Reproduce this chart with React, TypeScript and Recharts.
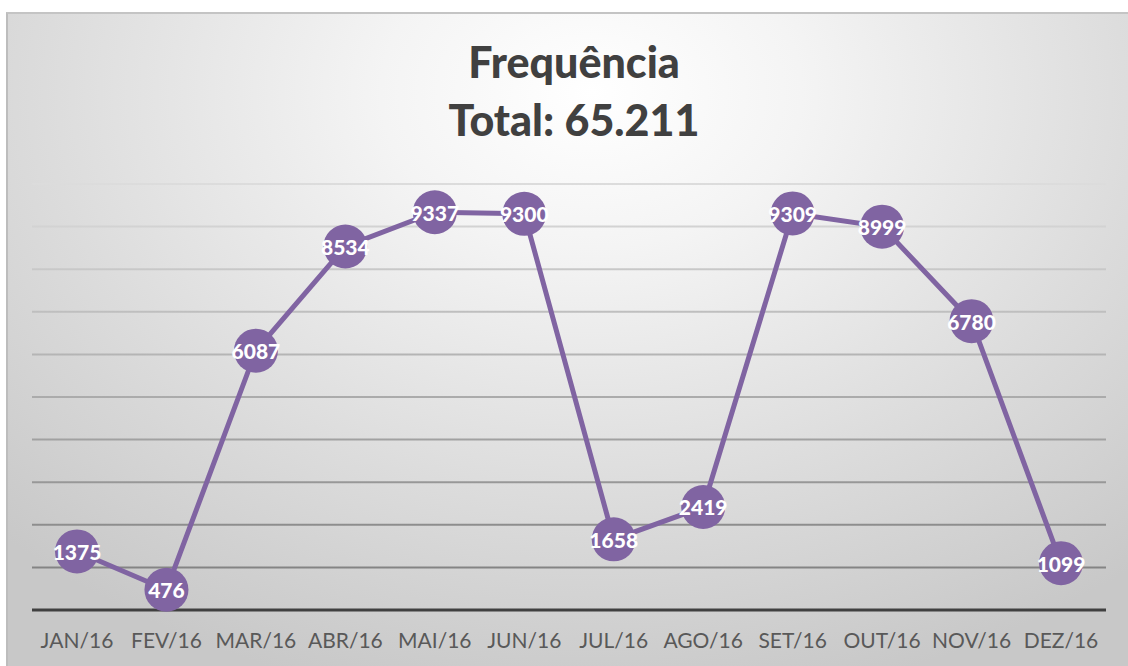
import React from "react";
import { LineChart, Line, XAxis, YAxis, CartesianGrid, LabelList } from "recharts";

const MONTHS = ["JAN/16", "FEV/16", "MAR/16", "ABR/16", "MAI/16", "JUN/16", "JUL/16", "AGO/16", "SET/16", "OUT/16", "NOV/16", "DEZ/16"];
const FREQUENCIA = [1375, 476, 6087, 8534, 9337, 9300, 1658, 2419, 9309, 8999, 6780, 1099];
const Y_TICKS = [0, 1000, 2000, 3000, 4000, 5000, 6000, 7000, 8000, 9000, 10000];

const data = MONTHS.map((m, i) => ({ month: m, value: FREQUENCIA[i] }));

const FONT = "Lato, 'Open Sans', sans-serif";
const PURPLE = "#8064a2";

function ValueLabel(props: any) {
    const { x, y, value } = props;
    return (
        <text
            x={x}
            y={y}
            textAnchor="middle"
            dominantBaseline="central"
            fill="#ffffff"
            fontFamily={FONT}
            fontWeight={900}
            fontSize={21}
        >
            {value}
        </text>
    );
}

export default function App() {
    return (
        <div style={{ position: "absolute", left: 0, top: 0, width: 1128, height: 666, background: "#ffffff", overflow: "hidden" }}>
            <div
                style={{
                    position: "absolute",
                    left: 6,
                    top: 12,
                    width: 1122,
                    height: 654,
                    borderLeft: "2px solid #bdbdbd",
                    borderTop: "2px solid #c4c4c4",
                    background: "radial-gradient(ellipse 75% 95% at 52% 12%, #ffffff 0%, #f4f4f4 25%, #dcdcdc 65%, #c8c8c8 100%)",
                }}
            />
            <div
                style={{
                    position: "absolute",
                    left: 0,
                    top: 33,
                    width: 1148,
                    textAlign: "center",
                    fontFamily: FONT,
                    fontWeight: 900,
                    fontSize: 43,
                    lineHeight: "58px",
                    color: "#404040",
                }}
            >
                <div>Frequência</div>
                <div>Total: 65.211</div>
            </div>
            <div style={{ position: "absolute", left: 0, top: 0 }}>
                <LineChart width={1128} height={666} data={data} margin={{ top: 184, right: 22, left: 32, bottom: 0 }}>
                    <defs>
                        <linearGradient id="gridFade" gradientUnits="userSpaceOnUse" x1="0" y1="184" x2="0" y2="610">
                            <stop offset="0%" stopColor="#dcdcdc" />
                            <stop offset="100%" stopColor="#7a7a7a" />
                        </linearGradient>
                    </defs>
                    <CartesianGrid vertical={false} stroke="url(#gridFade)" strokeWidth={2} />
                    <XAxis
                        dataKey="month"
                        height={56}
                        padding={{ left: 45, right: 45 }}
                        axisLine={{ stroke: "#404040", strokeWidth: 3 }}
                        tickLine={false}
                        tickSize={0}
                        tickMargin={23}
                        interval={0}
                        tick={{ fill: "#595959", fontSize: 21, fontFamily: FONT }}
                    />
                    <YAxis hide domain={[0, 10000]} ticks={Y_TICKS} />
                    <Line
                        type="linear"
                        dataKey="value"
                        stroke={PURPLE}
                        strokeWidth={5}
                        dot={{ r: 22, fill: PURPLE, stroke: "none" }}
                        activeDot={false}
                        isAnimationActive={false}
                    >
                        <LabelList dataKey="value" content={<ValueLabel />} />
                    </Line>
                </LineChart>
            </div>
        </div>
    );
}
